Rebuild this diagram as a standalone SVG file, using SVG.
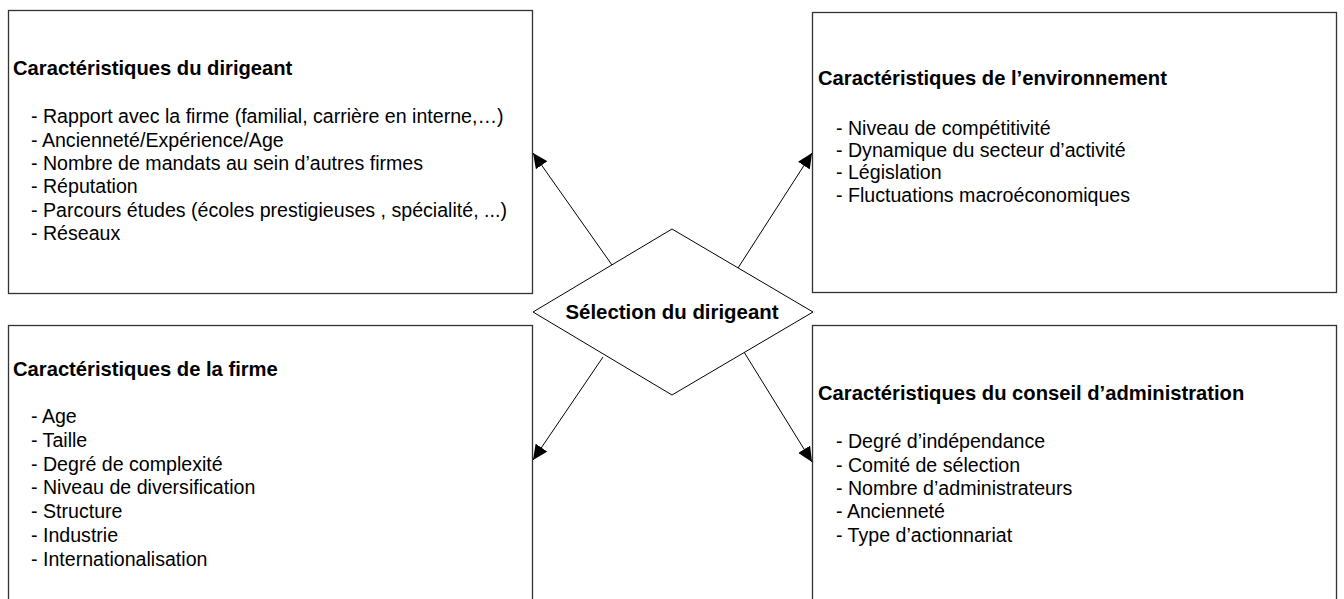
<svg xmlns="http://www.w3.org/2000/svg" width="1344" height="599" viewBox="0 0 1344 599">
<style>
.box{fill:#fff;stroke:#333;stroke-width:1.3}
.t{font-family:"Liberation Sans",Arial,sans-serif;font-size:19.6px;fill:#000}
.b{font-weight:bold;font-size:20.2px}
.conn{stroke:#000;stroke-width:1;fill:none}
</style>
<defs>
<marker id="ah" markerWidth="16" markerHeight="14" refX="15" refY="7" orient="auto" markerUnits="userSpaceOnUse">
<path d="M0,0 L15,7 L0,14 Z" fill="#000"/>
</marker>
</defs>
<rect width="1344" height="599" fill="#fff"/>
<g id="dirigeant">
<rect class="box" x="8.5" y="10.5" width="524" height="283"/>
<text class="t b" x="13" y="75">Caractéristiques du dirigeant</text>
<text class="t" x="31" y="123">- Rapport avec la firme (familial, carrière en interne,…)</text>
<text class="t" x="31" y="147">- Ancienneté/Expérience/Age</text>
<text class="t" x="31" y="170">- Nombre de mandats au sein d’autres firmes</text>
<text class="t" x="31" y="193">- Réputation</text>
<text class="t" x="31" y="217">- Parcours études (écoles prestigieuses , spécialité, ...)</text>
<text class="t" x="31" y="240">- Réseaux</text>
</g>
<g id="environnement">
<rect class="box" x="812.5" y="12.5" width="524" height="280"/>
<text class="t b" x="818" y="85">Caractéristiques de l’environnement</text>
<text class="t" x="836" y="135">- Niveau de compétitivité</text>
<text class="t" x="836" y="157">- Dynamique du secteur d’activité</text>
<text class="t" x="836" y="179">- Législation</text>
<text class="t" x="836" y="202">- Fluctuations macroéconomiques</text>
</g>
<g id="firme">
<rect class="box" x="8.5" y="325.5" width="524" height="290"/>
<text class="t b" x="13" y="376">Caractéristiques de la firme</text>
<text class="t" x="31" y="423">- Age</text>
<text class="t" x="31" y="447">- Taille</text>
<text class="t" x="31" y="471">- Degré de complexité</text>
<text class="t" x="31" y="494">- Niveau de diversification</text>
<text class="t" x="31" y="518">- Structure</text>
<text class="t" x="31" y="542">- Industrie</text>
<text class="t" x="31" y="566">- Internationalisation</text>
</g>
<g id="conseil">
<rect class="box" x="812.5" y="325.5" width="524" height="290"/>
<text class="t b" x="818" y="400">Caractéristiques du conseil d’administration</text>
<text class="t" x="836" y="448">- Degré d’indépendance</text>
<text class="t" x="836" y="472">- Comité de sélection</text>
<text class="t" x="836" y="495">- Nombre d’administrateurs</text>
<text class="t" x="836" y="518">- Ancienneté</text>
<text class="t" x="836" y="542">- Type d’actionnariat</text>
</g>
<g id="connectors">
<line class="conn" x1="612" y1="265" x2="533" y2="153" marker-end="url(#ah)"/>
<line class="conn" x1="738" y1="268" x2="812" y2="153" marker-end="url(#ah)"/>
<line class="conn" x1="603" y1="357" x2="533" y2="460" marker-end="url(#ah)"/>
<line class="conn" x1="744" y1="352" x2="812" y2="462" marker-end="url(#ah)"/>
</g>
<g id="selection">
<polygon points="533,312 672,229 813,312 672,395" fill="#fff" stroke="#000" stroke-width="1"/>
<text class="t b" x="672" y="319" text-anchor="middle" style="font-size:20.4px">Sélection du dirigeant</text>
</g>
</svg>
